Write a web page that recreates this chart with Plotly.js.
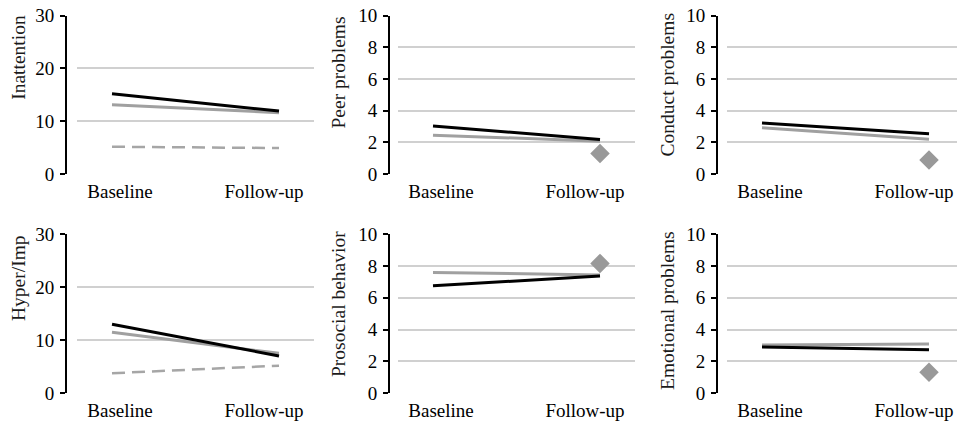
<!DOCTYPE html>
<html>
<head>
<meta charset="utf-8">
<script src="https://cdn.plot.ly/plotly-3.0.1.min.js"></script>
<style>html,body{margin:0;padding:0;background:#fff;}#chart{width:957px;height:423px;}</style>
</head>
<body>
<div id="chart"></div>
<script>
// ---- data ----
const categories = ['Baseline', 'Follow-up'];
const diamondCategory = ['Follow-up'];

const inattentionBlack = [15.2, 11.9];
const inattentionGray = [13.1, 11.6];
const inattentionDashed = [5.15, 4.9];

const peerBlack = [3.02, 2.18];
const peerGray = [2.45, 2.07];
const peerDiamond = [1.29];

const conductBlack = [3.22, 2.53];
const conductGray = [2.92, 2.19];
const conductDiamond = [0.88];

const hyperBlack = [12.98, 7.0];
const hyperGray = [11.47, 7.5];
const hyperDashed = [3.72, 5.16];

const prosocialBlack = [6.76, 7.37];
const prosocialGray = [7.60, 7.44];
const prosocialDiamond = [8.17];

const emotionalBlack = [2.90, 2.73];
const emotionalGray = [3.02, 3.09];
const emotionalDiamond = [1.30];

const panelTitles = ['Inattention', 'Peer problems', 'Conduct problems', 'Hyper/Imp', 'Prosocial behavior', 'Emotional problems'];
const panelMax = [30, 10, 10, 30, 10, 10];
const panelDtick = [10, 2, 2, 10, 2, 2];

// ---- layout geometry (pixels) ----
const W = 957, H = 423;
const colAxisX = [66, 389, 717];
const colGridL = [77, 398, 727];
const colGridR = [314, 635, 957];
const colBaseX = [112, 433, 762];
const unitPx = 167;
const labelShift = [8, -15];          // label offset (px) from each category's data position
const rowTop = [15.5, 234.3];
const rowBottom = [174, 393];
const titlePos = [[18.3, 57.5], [338, 72.5], [667, 84.5], [18, 278], [338, 304], [667, 311]];

const catIndex = c => categories.indexOf(c);

const panels = [
  {black: inattentionBlack, gray: inattentionGray, dashed: inattentionDashed},
  {black: peerBlack, gray: peerGray, diamond: peerDiamond},
  {black: conductBlack, gray: conductGray, diamond: conductDiamond},
  {black: hyperBlack, gray: hyperGray, dashed: hyperDashed},
  {black: prosocialBlack, gray: prosocialGray, diamond: prosocialDiamond},
  {black: emotionalBlack, gray: emotionalGray, diamond: emotionalDiamond}
];

const traces = [];
const layout = {
  width: W, height: H,
  margin: {l: 0, r: 0, t: 0, b: 0},
  paper_bgcolor: '#fff', plot_bgcolor: 'rgba(0,0,0,0)',
  showlegend: false,
  font: {family: '"Liberation Serif", "Times New Roman", serif', color: '#000'},
  annotations: []
};

const xIdx = categories.map(catIndex);
const dIdx = diamondCategory.map(catIndex);

panels.forEach((p, i) => {
  const n = i + 1;
  const sfx = n === 1 ? '' : String(n);
  const xa = 'x' + sfx, ya = 'y' + sfx;
  const col = i % 3, row = Math.floor(i / 3);
  const left = (colGridL[col] - colBaseX[col]) / unitPx;
  const right = (colGridR[col] - colBaseX[col]) / unitPx;
  layout['xaxis' + sfx] = {
    domain: [colGridL[col] / W, colGridR[col] / W],
    anchor: ya,
    type: 'linear',
    range: [left, right],
    tickmode: 'array',
    tickvals: xIdx.map((v, k) => v + labelShift[k] / unitPx),
    ticktext: categories,
    showgrid: false, zeroline: false, showline: false, ticks: '',
    tickfont: {size: 19, color: '#000'},
    ticklabelstandoff: 4,
    fixedrange: true
  };
  const eps = panelMax[i] * 0.0005;
  layout['yaxis' + sfx] = {
    domain: [1 - rowBottom[row] / H, 1 - rowTop[row] / H],
    anchor: 'free',
    position: colAxisX[col] / W,
    range: [-eps, panelMax[i] + eps],
    tickmode: 'linear', dtick: panelDtick[i], tick0: 0,
    showgrid: true, gridcolor: '#d0d0d0', gridwidth: 2,
    zeroline: false,
    showline: true, linecolor: '#000', linewidth: 2,
    ticks: 'outside', ticklen: 5, tickwidth: 2, tickcolor: '#000',
    tickfont: {size: 19, color: '#000'},
    ticklabelstandoff: 2,
    fixedrange: true
  };
  if (p.dashed) {
    traces.push({x: xIdx, y: p.dashed, xaxis: xa, yaxis: ya, mode: 'lines',
      line: {color: '#a6a6a6', width: 2.5, dash: '13px,7px'}, hoverinfo: 'skip'});
  }
  traces.push({x: xIdx, y: p.gray, xaxis: xa, yaxis: ya, mode: 'lines',
    line: {color: '#a0a0a0', width: 3}, hoverinfo: 'skip'});
  traces.push({x: xIdx, y: p.black, xaxis: xa, yaxis: ya, mode: 'lines',
    line: {color: '#000', width: 3}, hoverinfo: 'skip'});
  if (p.diamond) {
    traces.push({x: dIdx, y: p.diamond, xaxis: xa, yaxis: ya, mode: 'markers',
      marker: {symbol: 'diamond', size: 15, color: '#999999'}, hoverinfo: 'skip', cliponaxis: false});
  }
  layout.annotations.push({
    text: panelTitles[i], xref: 'paper', yref: 'paper',
    x: titlePos[i][0] / W, y: 1 - titlePos[i][1] / H,
    xanchor: 'center', yanchor: 'middle', textangle: -90, showarrow: false,
    font: {size: 19.5, color: '#1a1a1a'}
  });
});

Plotly.newPlot('chart', traces, layout, {displayModeBar: false, staticPlot: true});
</script>
</body>
</html>
